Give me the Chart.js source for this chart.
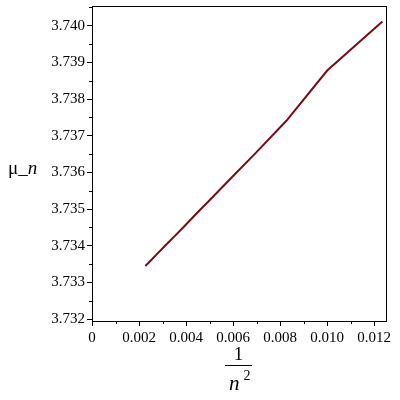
<!DOCTYPE html>
<html>
<head>
<meta charset="utf-8">
<script src="https://cdn.jsdelivr.net/npm/chart.js@4/dist/chart.umd.min.js"></script>
<style>
  html, body { margin: 0; padding: 0; background: #fff; }
  #wrap { width: 400px; height: 400px; position: relative; }
</style>
</head>
<body>
<div id="wrap"><canvas id="c" width="400" height="400"></canvas></div>
<script>
'use strict';

// 1/n^2 for n = 21 .. 9
const xVals = [0.002268, 0.0025, 0.00277, 0.003086, 0.00346, 0.003906, 0.004444, 0.005102, 0.005917, 0.006944, 0.008264, 0.01, 0.012346];
// mu_n
const muVals = [3.73345, 3.73360, 3.73378, 3.73399, 3.73423, 3.73452, 3.73488, 3.73531, 3.73585, 3.73652, 3.73741, 3.73878, 3.74012];

const xTicks = [0, 0.002, 0.004, 0.006, 0.008, 0.010, 0.012];
const xMinor = [0.001, 0.003, 0.005, 0.007, 0.009, 0.011];
const yTicks = [3.732, 3.733, 3.734, 3.735, 3.736, 3.737, 3.738, 3.739, 3.740];
const yMinor = [3.7325, 3.7335, 3.7345, 3.7355, 3.7365, 3.7375, 3.7385, 3.7395, 3.7405];

const SERIF = '"Liberation Serif", "DejaVu Serif", serif';

/* box, minor ticks and the two axis titles */
const frame = {
  id: 'frame',
  afterDraw(chart) {
    const { ctx, chartArea: a, scales } = chart;
    ctx.save();
    ctx.strokeStyle = '#000';
    ctx.lineWidth = 1;
    ctx.strokeRect(Math.round(a.left) + 0.5, Math.round(a.top) + 0.5,
                   Math.round(a.right - a.left), Math.round(a.bottom - a.top));

    ctx.beginPath();
    xMinor.forEach(v => {
      const px = Math.round(scales.x.getPixelForValue(v)) + 0.5;
      ctx.moveTo(px, a.bottom); ctx.lineTo(px, a.bottom + 3);
    });
    yMinor.forEach(v => {
      const py = Math.round(scales.y.getPixelForValue(v)) + 0.5;
      if (py < a.top) return;
      ctx.moveTo(a.left, py); ctx.lineTo(a.left - 3, py);
    });
    ctx.stroke();

    // y title: μ_n (horizontal)
    ctx.fillStyle = '#000';
    ctx.textBaseline = 'alphabetic';
    ctx.textAlign = 'left';
    ctx.font = '19px ' + SERIF;
    let x = 8;
    ctx.fillText('μ_', x, 174);
    x += ctx.measureText('μ_').width;
    ctx.font = 'italic 19px ' + SERIF;
    ctx.fillText('n', x, 174);

    // x title: 1 / n^2
    const cx = 238.5;
    ctx.textAlign = 'center';
    ctx.font = '19px ' + SERIF;
    ctx.fillText('1', cx, 360);
    ctx.beginPath();
    ctx.moveTo(225, 365.5); ctx.lineTo(252, 365.5);
    ctx.stroke();
    ctx.textAlign = 'left';
    ctx.font = 'italic 21px ' + SERIF;
    ctx.fillText('n', 229, 390);
    ctx.font = '14px ' + SERIF;
    ctx.fillText('2', 243.5, 380);
    ctx.restore();
  }
};

new Chart(document.getElementById('c'), {
  type: 'line',
  data: {
    datasets: [{
      data: xVals.map((x, i) => ({ x, y: muVals[i] })),
      borderColor: '#7a0a14',
      borderWidth: 2,
      pointRadius: 0,
      tension: 0,
      fill: false,
    }],
  },
  options: {
    responsive: false,
    animation: false,
    layout: { padding: { left: 0, right: 14, top: 6, bottom: 0 } },
    plugins: { legend: { display: false }, tooltip: { enabled: false } },
    scales: {
      x: {
        type: 'linear',
        min: 0, max: 0.0125,
        afterFit: s => { s.height = 79; s.paddingLeft = 0; s.paddingRight = 0; },
        afterBuildTicks: s => { s.ticks = xTicks.map(v => ({ value: v })); },
        grid: { drawOnChartArea: false, drawTicks: true, tickLength: 5, color: '#000', tickColor: '#000' },
        border: { display: false },
        ticks: {
          color: '#000', padding: 3, maxRotation: 0,
          font: { family: SERIF, size: 15 },
          callback: v => v === 0 ? '0' : v.toFixed(3),
        },
      },
      y: {
        type: 'linear',
        min: 3.73195, max: 3.74054,
        afterFit: s => { s.width = 92; s.paddingTop = 0; s.paddingBottom = 0; },
        afterBuildTicks: s => { s.ticks = yTicks.map(v => ({ value: v })); },
        grid: { drawOnChartArea: false, drawTicks: true, tickLength: 5, color: '#000', tickColor: '#000' },
        border: { display: false },
        ticks: {
          color: '#000', padding: 2,
          font: { family: SERIF, size: 15 },
          callback: v => v.toFixed(3),
        },
      },
    },
  },
  plugins: [frame],
});
</script>
</body>
</html>
